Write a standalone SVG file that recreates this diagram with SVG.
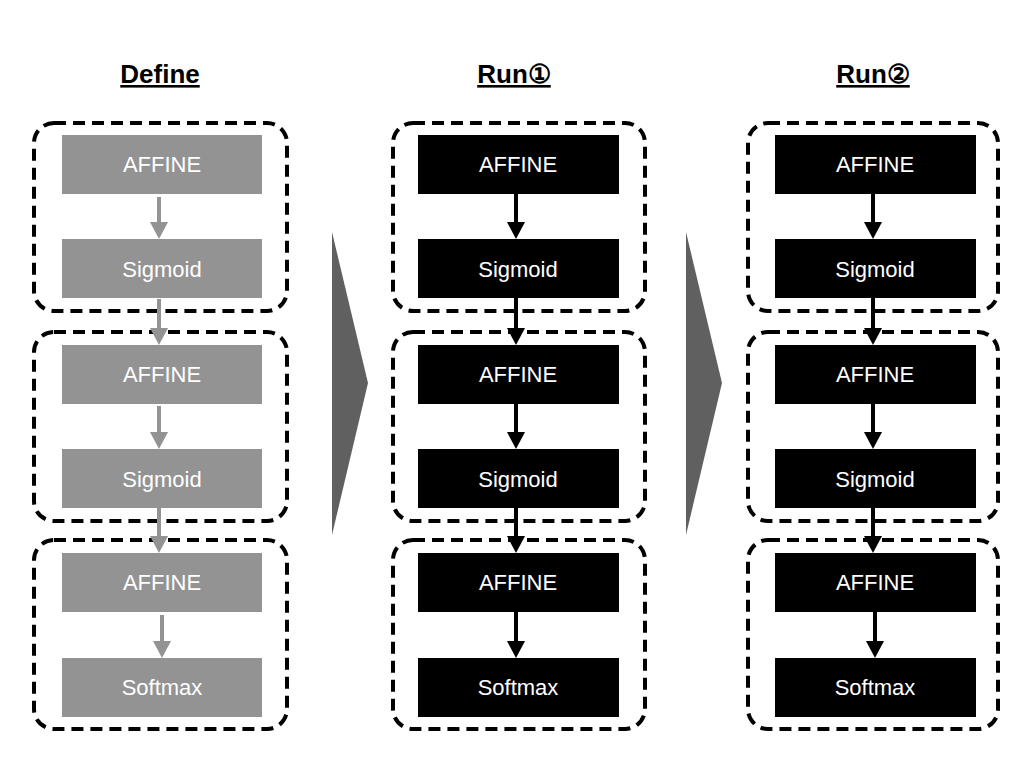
<svg xmlns="http://www.w3.org/2000/svg" width="1024" height="768" viewBox="0 0 1024 768">
<style>
.title{font-family:"Liberation Sans",Arial,sans-serif;font-size:26px;font-weight:bold;fill:#000;text-anchor:middle;text-decoration:underline}
.lbl{font-family:"Liberation Sans",Arial,sans-serif;font-size:22px;fill:#fff;text-anchor:middle}
.grp{fill:none;stroke:#000;stroke-width:4;stroke-dasharray:12 7}
.g{fill:#939393}
.b{fill:#000}
.tri{fill:#606060}
</style>
<rect width="1024" height="768" fill="#fff"/>
<text class="title" x="160" y="83">Define</text>
<text class="title" x="514" y="83">Run①</text>
<text class="title" x="873" y="83">Run②</text>
<g id="groups">
<rect class="grp" x="34" y="123" width="253" height="188" rx="20"/>
<rect class="grp" x="34" y="332" width="253" height="189" rx="20"/>
<rect class="grp" x="34" y="540" width="253" height="189" rx="20"/>
<rect class="grp" x="393" y="123" width="252" height="188" rx="20"/>
<rect class="grp" x="393" y="332" width="252" height="189" rx="20"/>
<rect class="grp" x="393" y="540" width="252" height="189" rx="20"/>
<rect class="grp" x="748" y="123" width="250" height="188" rx="20"/>
<rect class="grp" x="748" y="332" width="250" height="189" rx="20"/>
<rect class="grp" x="748" y="540" width="250" height="189" rx="20"/>
</g>
<g id="n1"><rect class="g" x="62" y="135" width="200" height="59"/><text class="lbl" x="162" y="172">AFFINE</text></g>
<g id="n2"><rect class="g" x="62" y="239" width="200" height="59"/><text class="lbl" x="162" y="277">Sigmoid</text></g>
<g id="n3"><rect class="g" x="62" y="345" width="200" height="59"/><text class="lbl" x="162" y="382">AFFINE</text></g>
<g id="n4"><rect class="g" x="62" y="449" width="200" height="59"/><text class="lbl" x="162" y="487">Sigmoid</text></g>
<g id="n5"><rect class="g" x="62" y="553" width="200" height="59"/><text class="lbl" x="162" y="590">AFFINE</text></g>
<g id="n6"><rect class="g" x="62" y="658" width="200" height="59"/><text class="lbl" x="162" y="695">Softmax</text></g>
<g id="r1"><rect class="b" x="418" y="135" width="201" height="59"/><text class="lbl" x="518" y="172">AFFINE</text></g>
<g id="r2"><rect class="b" x="418" y="239" width="201" height="59"/><text class="lbl" x="518" y="277">Sigmoid</text></g>
<g id="r3"><rect class="b" x="418" y="345" width="201" height="59"/><text class="lbl" x="518" y="382">AFFINE</text></g>
<g id="r4"><rect class="b" x="418" y="449" width="201" height="59"/><text class="lbl" x="518" y="487">Sigmoid</text></g>
<g id="r5"><rect class="b" x="418" y="553" width="201" height="59"/><text class="lbl" x="518" y="590">AFFINE</text></g>
<g id="r6"><rect class="b" x="418" y="658" width="201" height="59"/><text class="lbl" x="518" y="695">Softmax</text></g>
<g id="s1"><rect class="b" x="775" y="135" width="201" height="59"/><text class="lbl" x="875" y="172">AFFINE</text></g>
<g id="s2"><rect class="b" x="775" y="239" width="201" height="59"/><text class="lbl" x="875" y="277">Sigmoid</text></g>
<g id="s3"><rect class="b" x="775" y="345" width="201" height="59"/><text class="lbl" x="875" y="382">AFFINE</text></g>
<g id="s4"><rect class="b" x="775" y="449" width="201" height="59"/><text class="lbl" x="875" y="487">Sigmoid</text></g>
<g id="s5"><rect class="b" x="775" y="553" width="201" height="59"/><text class="lbl" x="875" y="590">AFFINE</text></g>
<g id="s6"><rect class="b" x="775" y="658" width="201" height="59"/><text class="lbl" x="875" y="695">Softmax</text></g>
<g id="connectors">
<g fill="#939393">
<rect x="157" y="197" width="4" height="26"/><path d="M150,222 L168,222 L159,239 Z"/>
<rect x="157" y="299" width="4" height="30"/><path d="M150,328 L168,328 L159,345 Z"/>
<rect x="157" y="406" width="4" height="27"/><path d="M150,432 L168,432 L159,449 Z"/>
<rect x="157" y="508" width="4" height="29"/><path d="M150,536 L168,536 L159,553 Z"/>
<rect x="160" y="615" width="4" height="27"/><path d="M153,641 L171,641 L162,658 Z"/>
</g>
<g fill="#000">
<rect x="514" y="194" width="4" height="29"/><path d="M507,222 L525,222 L516,239 Z"/>
<rect x="514" y="298" width="4" height="31"/><path d="M507,328 L525,328 L516,345 Z"/>
<rect x="514" y="404" width="4" height="29"/><path d="M507,432 L525,432 L516,449 Z"/>
<rect x="514" y="508" width="4" height="29"/><path d="M507,536 L525,536 L516,553 Z"/>
<rect x="514" y="612" width="4" height="30"/><path d="M507,641 L525,641 L516,658 Z"/>
<rect x="871" y="194" width="4" height="29"/><path d="M864,222 L882,222 L873,239 Z"/>
<rect x="871" y="298" width="4" height="31"/><path d="M864,328 L882,328 L873,345 Z"/>
<rect x="871" y="404" width="4" height="29"/><path d="M864,432 L882,432 L873,449 Z"/>
<rect x="871" y="508" width="4" height="29"/><path d="M864,536 L882,536 L873,553 Z"/>
<rect x="873" y="612" width="4" height="30"/><path d="M866,641 L884,641 L875,658 Z"/>
</g>
</g>
<g id="transitions">
<path class="tri" d="M332,232 L368,383 L332,535 Z"/>
<path class="tri" d="M686,232 L722,383 L686,535 Z"/>
</g>
</svg>
